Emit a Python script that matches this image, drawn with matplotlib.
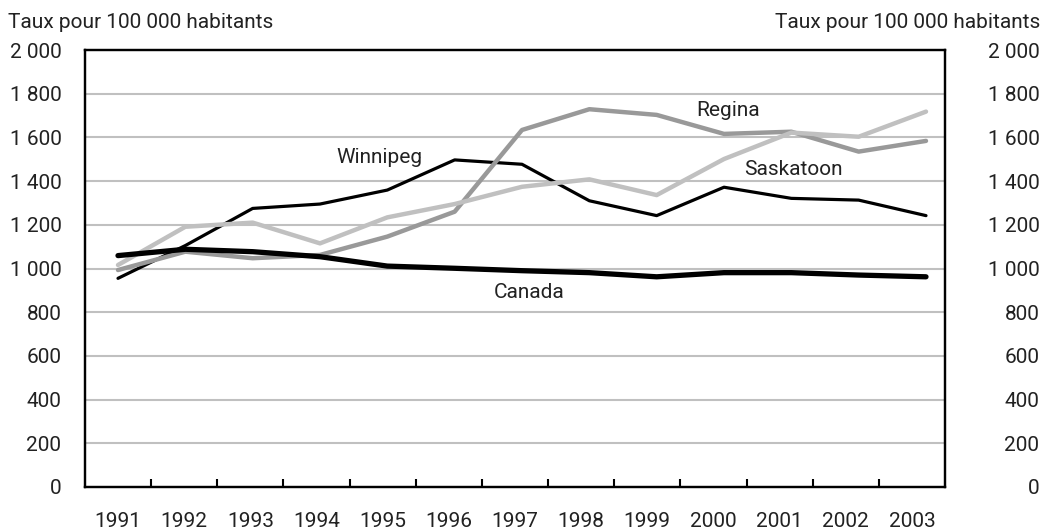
import matplotlib
matplotlib.use("Agg")
import matplotlib.pyplot as plt
from matplotlib import font_manager
import numpy as np

years = ["1991", "1992", "1993", "1994", "1995", "1996", "1997",
         "1998", "1999", "2000", "2001", "2002", "2003"]
winnipeg = [955, 1105, 1275, 1295, 1359, 1497, 1477, 1310, 1242, 1372, 1321, 1313, 1242]
regina = [993, 1077, 1047, 1062, 1146, 1260, 1634, 1729, 1703, 1616, 1626, 1535, 1584]
saskatoon = [1016, 1191, 1210, 1115, 1234, 1295, 1374, 1408, 1336, 1501, 1622, 1603, 1718]
canada = [1059, 1088, 1077, 1054, 1011, 1001, 990, 981, 962, 981, 981, 970, 962]
yticks = [0, 200, 400, 600, 800, 1000, 1200, 1400, 1600, 1800, 2000]
axis_title = "Taux pour 100 000 habitants"

names = {f.name for f in font_manager.fontManager.ttflist}
fam = [f for f in ["Roboto", "Liberation Sans"] if f in names] + ["DejaVu Sans"]
plt.rcParams['font.family'] = fam

W, H = 1042, 531
fig = plt.figure(figsize=(W / 100, H / 100), dpi=100)
L, R, T, B = 85, 945, 50, 487
ax = fig.add_axes([L / W, 1 - B / H, (R - L) / W, (B - T) / H])

x = np.arange(len(years))
# data positions: first point at ~118px, last at ~926px
px_unit = (926 - 118) / 12
ax.set_xlim(-(118 - L) / px_unit, 12 + (R - 926) / px_unit)
ax.set_ylim(0, 2000)

for v in yticks[1:-1]:
    ax.axhline(v, color="#c0c0c0", lw=1.5, zorder=1)

ax.plot(x, winnipeg, color="black", lw=2.3, zorder=3, solid_capstyle="round", solid_joinstyle="round")
ax.plot(x, regina, color="#999999", lw=3.2, zorder=4, solid_capstyle="round", solid_joinstyle="round")
ax.plot(x, saskatoon, color="#c0c0c0", lw=3.2, zorder=5, solid_capstyle="round", solid_joinstyle="round")
ax.plot(x, canada, color="black", lw=3.8, zorder=6, solid_capstyle="round", solid_joinstyle="round")

tc = "#222222"
fs = 15
ax.text(3.89, 1506, "Winnipeg", fontsize=fs, color=tc, ha="center", va="center")
ax.text(9.06, 1721, "Regina", fontsize=fs, color=tc, ha="center", va="center")
ax.text(10.03, 1455, "Saskatoon", fontsize=fs, color=tc, ha="center", va="center")
ax.text(6.10, 888, "Canada", fontsize=fs, color=tc, ha="center", va="center")

# x axis: category ticks between labels
xmin, xmax = ax.get_xlim()
cat_w = (xmax - xmin) / len(years)
ax.set_xticks([xmin + cat_w * (i + 0.5) for i in range(len(years))])
ax.set_xticklabels(years, fontsize=fs, color=tc)
ax.tick_params(axis="x", length=0, pad=18)
ax.set_xticks([xmin + cat_w * k for k in range(1, len(years))], minor=True)
ax.tick_params(axis="x", which="minor", direction="in", length=6, width=1.5, color="black")

ylabels = [f"{v:,}".replace(",", " ") for v in yticks]
ax.set_yticks(yticks)
ax.set_yticklabels(ylabels, fontsize=fs, color=tc)
ax.tick_params(axis="y", length=0, pad=17)

ax2 = ax.twinx()
ax2.set_ylim(0, 2000)
ax2.set_yticks(yticks)
ax2.set_yticklabels(ylabels, fontsize=fs, color=tc, ha="right")
ax2.tick_params(axis="y", length=0, pad=68)

for a in (ax, ax2):
    for s in a.spines.values():
        s.set_linewidth(1.6)
        s.set_color("black")

fig.text(8 / W, 1 - 22 / H, axis_title, fontsize=fs, color=tc, ha="left", va="center")
fig.text(1040 / W, 1 - 22 / H, axis_title, fontsize=fs, color=tc, ha="right", va="center")

fig.savefig("out.png", dpi=100)
